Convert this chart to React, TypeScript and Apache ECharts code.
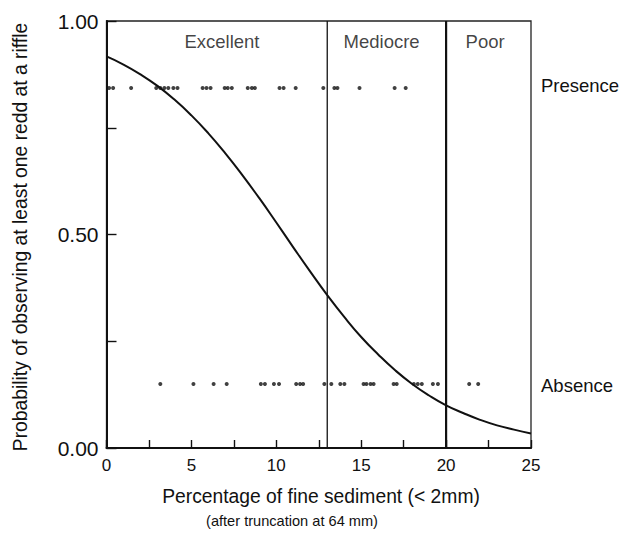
import React, { useEffect, useRef } from "react";
import * as echarts from "echarts";

// Fitted curve
const curveX = [0, 1, 2, 3, 4, 5, 6, 7, 8, 9, 10, 11, 12, 13, 14, 15, 16, 17, 18, 19, 20, 21, 22, 23, 24, 25];
const curveY = [0.917, 0.898, 0.875, 0.848, 0.816, 0.779, 0.737, 0.69, 0.639, 0.585, 0.528, 0.47, 0.413, 0.358, 0.307, 0.26, 0.219, 0.182, 0.15, 0.123, 0.1, 0.082, 0.066, 0.053, 0.043, 0.034];

// Observations
const presenceX = [0.15, 0.39, 1.45, 2.93, 3.17, 3.41, 3.64, 3.94, 4.18, 5.66, 5.89, 6.13, 6.96, 7.14, 7.38, 8.32, 8.56, 8.74, 10.19, 10.43, 11.14, 12.77, 13.42, 13.6, 14.9, 16.97, 17.62];
const absenceX = [3.17, 5.12, 6.31, 7.08, 9.09, 9.33, 9.86, 10.16, 11.17, 11.4, 11.58, 12.83, 13.24, 13.77, 14.01, 15.14, 15.31, 15.55, 15.73, 16.91, 17.09, 18.1, 18.33, 18.57, 19.22, 19.52, 21.36, 21.89];
const presenceLevel = 0.843;
const absenceLevel = 0.15;

// Habitat quality thresholds and regions
const thresholds = [13, 20];
const thresholdWidths = [1.3, 2.2];
const regionNames = ["Excellent", "Mediocre", "Poor"];
const regionLabelX = [6.8, 16.2, 22.3];
const regionLabelY = 0.953;

// Tick labels
const xTickLabels = ["0", "5", "10", "15", "20", "25"];
const yTickLabels = ["0.00", "0.50", "1.00"];

const FONT = "'Liberation Sans', Arial, Helvetica, sans-serif";
const INK = "#111111";

export default function App() {
  const ref = useRef<HTMLDivElement>(null);

  useEffect(() => {
    if (!ref.current) return;
    const chart = echarts.init(ref.current, null, { renderer: "svg" });

    const option: any = {
      animation: false,
      backgroundColor: "#ffffff",
      grid: {
        left: 106.5,
        right: 91,
        top: 21,
        bottom: 86,
        show: true,
        borderColor: "#222",
        borderWidth: 1.3,
        backgroundColor: "transparent",
      },
      xAxis: {
        type: "value",
        min: 0,
        max: 25,
        interval: 2.5,
        axisLine: { show: true, lineStyle: { color: INK, width: 2 } },
        axisTick: { show: true, inside: true, length: 8, lineStyle: { color: INK, width: 1.4 } },
        axisLabel: {
          color: INK,
          fontSize: 17,
          fontFamily: FONT,
          margin: 9,
          formatter: (v: number) => {
            const s = String(v);
            return xTickLabels.includes(s) ? s : "";
          },
        },
        splitLine: { show: false },
      },
      yAxis: {
        type: "value",
        min: 0,
        max: 1,
        interval: 0.25,
        axisLine: { show: true, lineStyle: { color: INK, width: 2 } },
        axisTick: { show: true, inside: true, length: 10, lineStyle: { color: INK, width: 1.4 } },
        axisLabel: {
          color: INK,
          fontSize: 21,
          fontFamily: FONT,
          margin: 8,
          formatter: (v: number) => {
            const s = v.toFixed(2);
            return yTickLabels.includes(s) ? s : "";
          },
        },
        splitLine: { show: false },
      },
      series: [
        {
          type: "line",
          data: curveX.map((x, i) => [x, curveY[i]]),
          smooth: true,
          showSymbol: false,
          lineStyle: { color: INK, width: 2 },
          z: 3,
        },
        ...thresholds.map((t, i) => ({
          type: "line",
          data: [
            [t, 0],
            [t, 1],
          ],
          showSymbol: false,
          lineStyle: { color: INK, width: thresholdWidths[i] },
          z: 2,
        })),
        {
          type: "scatter",
          data: presenceX.map((x) => [x, presenceLevel]),
          symbolSize: 4,
          itemStyle: { color: "#111" },
          z: 4,
        },
        {
          type: "scatter",
          data: absenceX.map((x) => [x, absenceLevel]),
          symbolSize: 4,
          itemStyle: { color: "#111" },
          z: 4,
        },
        {
          type: "scatter",
          data: regionNames.map((n, i) => ({ name: n, value: [regionLabelX[i], regionLabelY] })),
          symbolSize: 1,
          itemStyle: { color: "rgba(0,0,0,0)" },
          label: {
            show: true,
            position: "inside",
            formatter: "{b}",
            color: INK,
            fontSize: 18.5,
            fontFamily: FONT,
          },
          silent: true,
          z: 5,
        },
      ],
      graphic: [
        {
          type: "text",
          left: 541,
          top: 76,
          style: { text: "Presence", fill: INK, font: `18.5px ${FONT}` },
        },
        {
          type: "text",
          left: 541,
          top: 376,
          style: { text: "Absence", fill: INK, font: `18.5px ${FONT}` },
        },
        {
          type: "text",
          x: 321,
          y: 496,
          style: {
            text: "Percentage of fine sediment (< 2mm)",
            fill: INK,
            font: `19.3px ${FONT}`,
            textAlign: "center",
            textVerticalAlign: "middle",
          },
        },
        {
          type: "text",
          x: 292,
          y: 521,
          style: {
            text: "(after truncation at 64 mm)",
            fill: INK,
            font: `14.6px ${FONT}`,
            textAlign: "center",
            textVerticalAlign: "middle",
          },
        },
        {
          type: "text",
          x: 20,
          y: 237,
          rotation: Math.PI / 2,
          style: {
            text: "Probability of observing at least one redd at a riffle",
            fill: INK,
            font: `19.3px ${FONT}`,
            textAlign: "center",
            textVerticalAlign: "middle",
          },
        },
      ],
    };

    chart.setOption(option);
    return () => chart.dispose();
  }, []);

  return (
    <div
      ref={ref}
      style={{ position: "absolute", left: 0, top: 0, width: 622, height: 534 }}
    />
  );
}
